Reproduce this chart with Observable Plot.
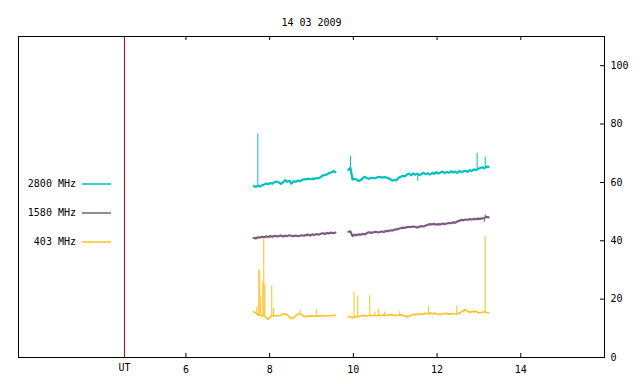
<!DOCTYPE html>
<html><head><meta charset="utf-8">
<script src="https://cdn.jsdelivr.net/npm/d3@7"></script>
<script src="https://cdn.jsdelivr.net/npm/@observablehq/plot@0.6"></script>
<style>
html,body{margin:0;padding:0;background:#fff;}
#chart svg{display:block;}
</style>
</head><body><div id="chart"></div>
<script>
const title = "14 03 2009";
const seriesNames = ["2800 MHz", "1580 MHz", "403 MHz"];
const seriesColors = ["#00c0c0", "#7b5c80", "#ffc020"];
const xTicks = [6, 8, 10, 12, 14];
const yTicks = [0, 20, 40, 60, 80, 100];
const utTime = 4.53;
const utLabel = "UT";

const seg1Times = [7.62,7.67,7.72,7.77,7.82,7.87,7.92,7.97,8.02,8.07,8.12,8.17,8.22,8.27,8.32,8.37,8.42,8.47,8.52,8.57,8.62,8.67,8.72,8.77,8.82,8.87,8.92,8.97,9.02,9.07,9.12,9.17,9.22,9.27,9.32,9.37,9.42,9.47,9.52,9.57];
const seg2Times = [9.88,9.93,9.98,10.03,10.08,10.13,10.18,10.23,10.28,10.33,10.38,10.43,10.48,10.53,10.58,10.63,10.68,10.73,10.78,10.83,10.88,10.93,10.98,11.03,11.08,11.13,11.18,11.23,11.28,11.33,11.38,11.43,11.48,11.53,11.58,11.63,11.68,11.73,11.78,11.83,11.88,11.93,11.98,12.03,12.08,12.13,12.18,12.23,12.28,12.33,12.38,12.43,12.48,12.53,12.58,12.63,12.68,12.73,12.78,12.83,12.88,12.93,12.98,13.03,13.08,13.13,13.18,13.23];

const mhz2800Seg1 = [58.7,58.5,58.8,58.6,59.0,59.3,59.6,59.4,59.8,59.6,60.1,60.3,60.0,59.5,60.0,60.8,60.2,60.6,59.6,60.4,60.2,60.6,60.4,60.8,61.1,61.0,61.3,61.1,61.3,61.2,61.5,61.4,61.8,62.4,62.5,62.8,63.2,63.4,63.9,63.5];
const mhz2800Seg2 = [64.3,65.0,61.0,61.2,60.9,60.5,60.8,61.6,61.9,61.4,61.3,61.6,61.4,61.5,61.8,61.9,61.6,61.8,61.7,61.5,61.1,60.6,60.9,60.7,61.6,61.9,62.3,62.0,62.7,63.0,62.4,63.1,62.6,63.0,62.5,62.9,63.3,62.8,63.1,62.7,63.3,62.9,63.5,63.0,63.4,63.7,63.2,63.6,63.3,63.8,63.4,63.7,63.2,63.9,63.5,63.8,64.0,63.6,64.2,63.9,64.5,64.2,64.7,64.9,65.2,64.8,65.4,65.3];
const mhz1580Seg1 = [41.0,40.8,41.2,41.1,41.4,41.2,41.5,41.3,41.6,41.4,41.7,41.5,41.6,41.8,41.5,41.7,41.6,41.9,41.7,41.6,41.8,41.6,41.7,41.9,41.7,42.0,42.1,41.8,42.2,42.0,42.3,42.1,42.4,42.6,42.3,42.7,42.5,42.8,42.6,42.8];
const mhz1580Seg2 = [43.1,43.2,41.6,42.1,41.9,42.2,42.1,42.4,42.2,42.7,42.9,42.7,42.9,43.1,42.9,43.0,43.2,43.0,43.4,43.3,43.6,43.5,43.8,43.9,44.1,44.3,44.5,44.4,44.7,44.8,44.7,44.9,44.8,44.5,44.9,45.0,44.9,45.2,45.5,45.7,45.6,45.8,45.5,45.7,45.6,45.9,45.7,45.9,46.1,46.0,46.3,46.2,46.6,46.8,47.2,47.0,47.3,47.2,47.4,47.3,47.5,47.4,47.6,47.5,47.7,47.8,48.2,48.0];
const mhz403Seg1 = [15.7,15.3,14.6,14.5,14.3,14.2,13.6,13.1,14.0,14.4,14.3,14.2,14.4,14.5,14.8,15.0,14.6,13.8,13.3,13.6,14.3,14.8,15.1,14.6,14.0,14.0,14.2,14.1,14.2,14.1,14.3,14.2,14.1,14.3,14.2,14.3,14.3,14.4,14.4,14.5];
const mhz403Seg2 = [14.0,14.0,13.5,14.0,14.0,14.1,14.2,14.5,14.3,14.2,14.5,14.3,14.4,14.4,14.4,14.5,14.4,14.6,14.5,14.4,14.7,14.6,14.4,14.4,14.5,14.6,14.4,14.2,14.0,14.1,14.5,14.8,14.6,14.9,14.7,15.0,14.8,15.2,15.0,15.3,14.9,15.2,15.0,14.8,14.7,15.1,14.9,15.2,14.8,15.0,15.1,14.9,14.8,15.2,15.6,16.0,16.3,15.8,15.5,15.8,15.6,15.9,15.3,15.4,15.5,15.7,15.4,15.3];

const spike2800Times = [7.717, 9.931, 11.539, 12.958, 13.149];
const spike2800Base  = [58.8, 65.0, 63.0, 64.7, 65.3];
const spike2800Peak  = [76.5, 68.9, 60.4, 70.0, 68.6];
const spike1580Times = [13.13, 13.149];
const spike1580Base  = [47.8, 47.8];
const spike1580Peak  = [46.3, 48.9];
const spike403Times = [7.693,7.741,7.764,7.788,7.836,7.860,7.884,8.051,8.092,8.730,9.112,10.015,10.106,10.392,10.512,10.607,10.750,11.109,11.799,12.468,12.647,13.149];
const spike403Base  = [15.0,14.5,14.5,14.4,14.3,14.3,14.2,14.0,14.3,15.0,14.2,13.8,14.0,14.3,14.4,14.4,14.5,14.5,15.1,14.9,16.0,15.5];
const spike403Peak  = [17.2,30.0,29.5,20.6,26.0,40.7,24.9,24.5,16.8,16.3,16.5,22.5,21.2,21.2,15.7,16.6,15.6,15.7,17.4,17.4,16.5,41.6];

const lineSets = [
  [mhz2800Seg1, mhz2800Seg2],
  [mhz1580Seg1, mhz1580Seg2],
  [mhz403Seg1, mhz403Seg2]
];
const spikeSets = [
  [spike2800Times, spike2800Base, spike2800Peak],
  [spike1580Times, spike1580Base, spike1580Peak],
  [spike403Times, spike403Base, spike403Peak]
];

const W = 640, H = 384;
const mL = 18, mR = 36, mT = 36, mB = 27;
const innerW = W - mL - mR, innerH = H - mT - mB;
const font = "DejaVu Sans Mono";
const lineWidths = [2.2, 2.2, 1.6];

function rows(times, vals, seg) { return times.map((t, i) => ({t, v: vals[i], seg})); }

const marks = [];
marks.push(Plot.ruleX([utTime], {x: d => d, stroke: "#a00000", strokeWidth: 1}));
lineSets.forEach((segs, i) => {
  const data = [...rows(seg1Times, segs[0], 1), ...rows(seg2Times, segs[1], 2)];
  marks.push(Plot.line(data, {x: "t", y: "v", z: "seg", stroke: seriesColors[i], strokeWidth: lineWidths[i]}));
});
spikeSets.forEach(([ts, bs, ps], i) => {
  const data = ts.map((t, j) => ({t, b: bs[j], p: ps[j]}));
  marks.push(Plot.ruleX(data, {x: "t", y1: "b", y2: "p", stroke: seriesColors[i], strokeWidth: 1}));
});
marks.push(Plot.frame({stroke: "black", strokeWidth: 1}));
marks.push(Plot.tickX(xTicks, {x: d => d, insetTop: innerH - 4, stroke: "black"}));
marks.push(Plot.tickX(xTicks, {x: d => d, insetBottom: innerH - 4, stroke: "black"}));
marks.push(Plot.tickY(yTicks, {y: d => d, insetLeft: innerW - 4, stroke: "black"}));
marks.push(Plot.text(xTicks, {x: d => d, frameAnchor: "bottom", dy: 15, text: d => String(d), fontSize: 10, fill: "black"}));
marks.push(Plot.text([utLabel], {x: () => utTime, frameAnchor: "bottom", dy: 13, text: d => d, fontSize: 10, fill: "black"}));
marks.push(Plot.text(yTicks, {y: d => d, frameAnchor: "right", dx: 6, textAnchor: "start", text: d => String(d), fontSize: 10, fill: "black"}));
marks.push(Plot.text([title], {frameAnchor: "top", dy: -18, text: d => d, fontSize: 10, fill: "black"}));

const plot = Plot.plot({
  width: W, height: H,
  marginLeft: mL, marginRight: mR, marginTop: mT, marginBottom: mB,
  x: {domain: [2, 16], axis: null},
  y: {domain: [0, 110], axis: null},
  style: {fontFamily: font, fontSize: "10px", background: "white", color: "black"},
  marks
});

// legend (gnuplot-style key inside the plot area)
const svg = d3.select(plot);
const legendY = [184, 213, 242];
seriesNames.forEach((name, i) => {
  svg.append("text").attr("x", 76).attr("y", legendY[i]).attr("dy", "0.32em")
    .attr("text-anchor", "end").attr("font-family", font).attr("font-size", 10)
    .attr("fill", "black").text(name);
  svg.append("line").attr("x1", 82).attr("x2", 111).attr("y1", legendY[i]).attr("y2", legendY[i])
    .attr("stroke", seriesColors[i]).attr("stroke-width", 1.5);
});

document.getElementById("chart").appendChild(plot);
</script>
</body></html>
